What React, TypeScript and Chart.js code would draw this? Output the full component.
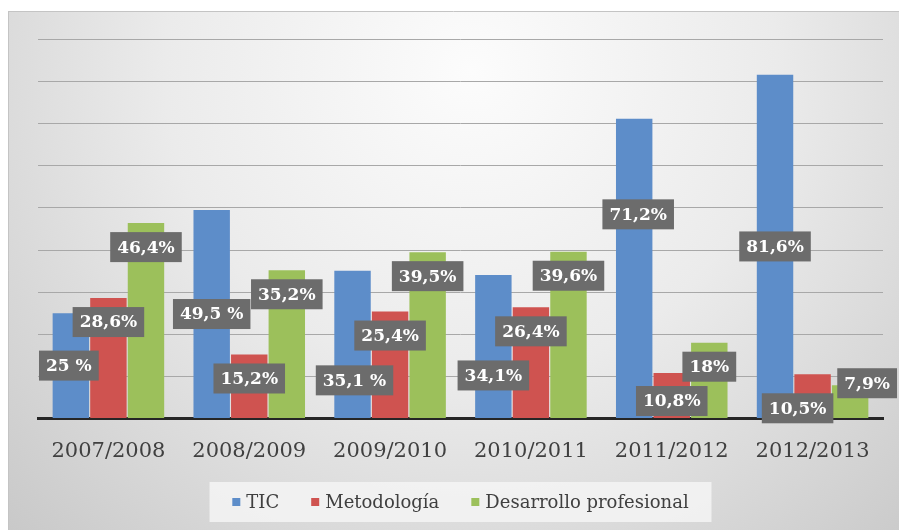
import React, { useEffect, useRef } from 'react';
import { Chart, registerables } from 'chart.js';

Chart.register(...registerables);

// ---- data ----
const categories = ['2007/2008', '2008/2009', '2009/2010', '2010/2011', '2011/2012', '2012/2013'];
const seriesNames = ['TIC', 'Metodología', 'Desarrollo profesional'];
const ticValues = [25, 49.5, 35.1, 34.1, 71.2, 81.6];
const metValues = [28.6, 15.2, 25.4, 26.4, 10.8, 10.5];
const desValues = [46.4, 35.2, 39.5, 39.6, 18, 7.9];
const ticLabels = ['25 %', '49,5 %', '35,1 %', '34,1%', '71,2%', '81,6%'];
const metLabels = ['28,6%', '15,2%', '25,4%', '26,4%', '10,8%', '10,5%'];
const desLabels = ['46,4%', '35,2%', '39,5%', '39,6%', '18%', '7,9%'];
const yMax = 90;
const yStep = 10;

// ---- style ----
const seriesColors = ['rgb(93,141,201)', 'rgb(207,83,80)', 'rgb(156,192,91)'];
const dataLabelText = [ticLabels, metLabels, desLabels];
const labelAnchor = ['center', 'end', 'end'];
const labelNudge = [
  [[-2, 0], [0, 0], [2, 36], [0, 29], [4, -54], [0, 0]],
  [[0, 0], [0, 0], [0, 0], [0, 0], [0, 4], [-15, 10]],
  [[0, 0], [0, 0], [0, 0], [0, 0], [0, 0], [17, -26]],
];
const SERIF = '"DejaVu Serif", serif';

const backgroundPlugin = {
  id: 'bgGradient',
  beforeDraw(chart: any) {
    const { ctx, width, height } = chart;
    ctx.save();
    const g = ctx.createRadialGradient(width * 0.52, 60, 0, width * 0.52, 60, 680);
    g.addColorStop(0, '#fcfcfc');
    g.addColorStop(0.45, '#ebebeb');
    g.addColorStop(1, '#c6c6c6');
    ctx.fillStyle = g;
    ctx.fillRect(0, 0, width, height);
    ctx.strokeStyle = '#c4c4c4';
    ctx.lineWidth = 1;
    ctx.beginPath();
    ctx.moveTo(0, 0.5);
    ctx.lineTo(width, 0.5);
    ctx.moveTo(0.5, 0);
    ctx.lineTo(0.5, height);
    ctx.stroke();
    ctx.restore();
  },
};

const dataLabelPlugin = {
  id: 'boxLabels',
  afterDatasetsDraw(chart: any) {
    const ctx = chart.ctx;
    ctx.save();
    ctx.font = 'bold 17px ' + SERIF;
    ctx.textAlign = 'center';
    ctx.textBaseline = 'middle';
    chart.data.datasets.forEach((_ds: any, di: number) => {
      const meta = chart.getDatasetMeta(di);
      meta.data.forEach((el: any, i: number) => {
        const { x, y, base } = el.getProps(['x', 'y', 'base'], true);
        const cy = labelAnchor[di] === 'center' ? (y + base) / 2 : y + 24;
        const [dx, dy] = labelNudge[di][i];
        const text = dataLabelText[di][i];
        const w = ctx.measureText(text).width + 14;
        const h = 30;
        ctx.fillStyle = 'rgb(108,108,108)';
        ctx.fillRect(x + dx - w / 2, cy + dy - h / 2, w, h);
        ctx.fillStyle = '#ffffff';
        ctx.fillText(text, x + dx, cy + dy + 1);
      });
    });
    ctx.restore();
  },
};

const legendPlugin = {
  id: 'boxLegend',
  afterDraw(chart: any) {
    const { ctx, chartArea } = chart;
    ctx.save();
    ctx.font = '18px ' + SERIF;
    const sq = 8;
    const gapSq = 6;
    const gapItem = 32;
    const widths = seriesNames.map((n) => ctx.measureText(n).width);
    const total = widths.reduce((a, w) => a + sq + gapSq + w, 0) + gapItem * (seriesNames.length - 1);
    const cx = (chartArea.left + chartArea.right) / 2;
    const cy = chart.height - 28;
    const boxW = 502;
    const boxH = 40;
    ctx.fillStyle = 'rgba(244,244,244,0.85)';
    ctx.fillRect(cx - boxW / 2, cy - boxH / 2, boxW, boxH);
    let x = cx - total / 2;
    ctx.textBaseline = 'middle';
    ctx.textAlign = 'left';
    seriesNames.forEach((n, i) => {
      ctx.fillStyle = seriesColors[i];
      ctx.fillRect(x, cy - sq / 2, sq, sq);
      x += sq + gapSq;
      ctx.fillStyle = '#404040';
      ctx.fillText(n, x, cy + 1);
      x += widths[i] + gapItem;
    });
    ctx.restore();
  },
};

export default function App() {
  const canvasRef = useRef<HTMLCanvasElement | null>(null);

  useEffect(() => {
    if (!canvasRef.current) return;
    const chart = new Chart(canvasRef.current, {
      type: 'bar',
      data: {
        labels: categories,
        datasets: [ticValues, metValues, desValues].map((vals, i) => ({
          label: seriesNames[i],
          data: vals,
          backgroundColor: seriesColors[i],
          borderWidth: 0,
          categoryPercentage: 0.8,
          barPercentage: 0.97,
        })),
      },
      options: {
        responsive: false,
        animation: false,
        devicePixelRatio: 1,
        layout: { padding: { left: 30, right: 16, top: 28.5, bottom: 0 } },
        plugins: {
          legend: { display: false },
          tooltip: { enabled: false },
        },
        scales: {
          x: {
            grid: { display: false },
            border: { display: true, color: '#262626', width: 3 },
            ticks: {
              font: { family: SERIF, size: 21 },
              color: '#404040',
              padding: 12,
              maxRotation: 0,
              autoSkip: false,
            },
            afterFit(axis: any) {
              axis.height = 111.5;
            },
          },
          y: {
            min: 0,
            max: yMax,
            ticks: { display: false, stepSize: yStep },
            grid: { color: '#a8a8a8', lineWidth: 1, drawTicks: false },
            border: { display: false },
          },
        },
      },
      plugins: [backgroundPlugin, dataLabelPlugin, legendPlugin],
    });
    return () => chart.destroy();
  }, []);

  return (
    <div style={{ position: 'absolute', left: 8, top: 11, width: 891, height: 519 }}>
      <canvas ref={canvasRef} width={891} height={519} />
    </div>
  );
}
